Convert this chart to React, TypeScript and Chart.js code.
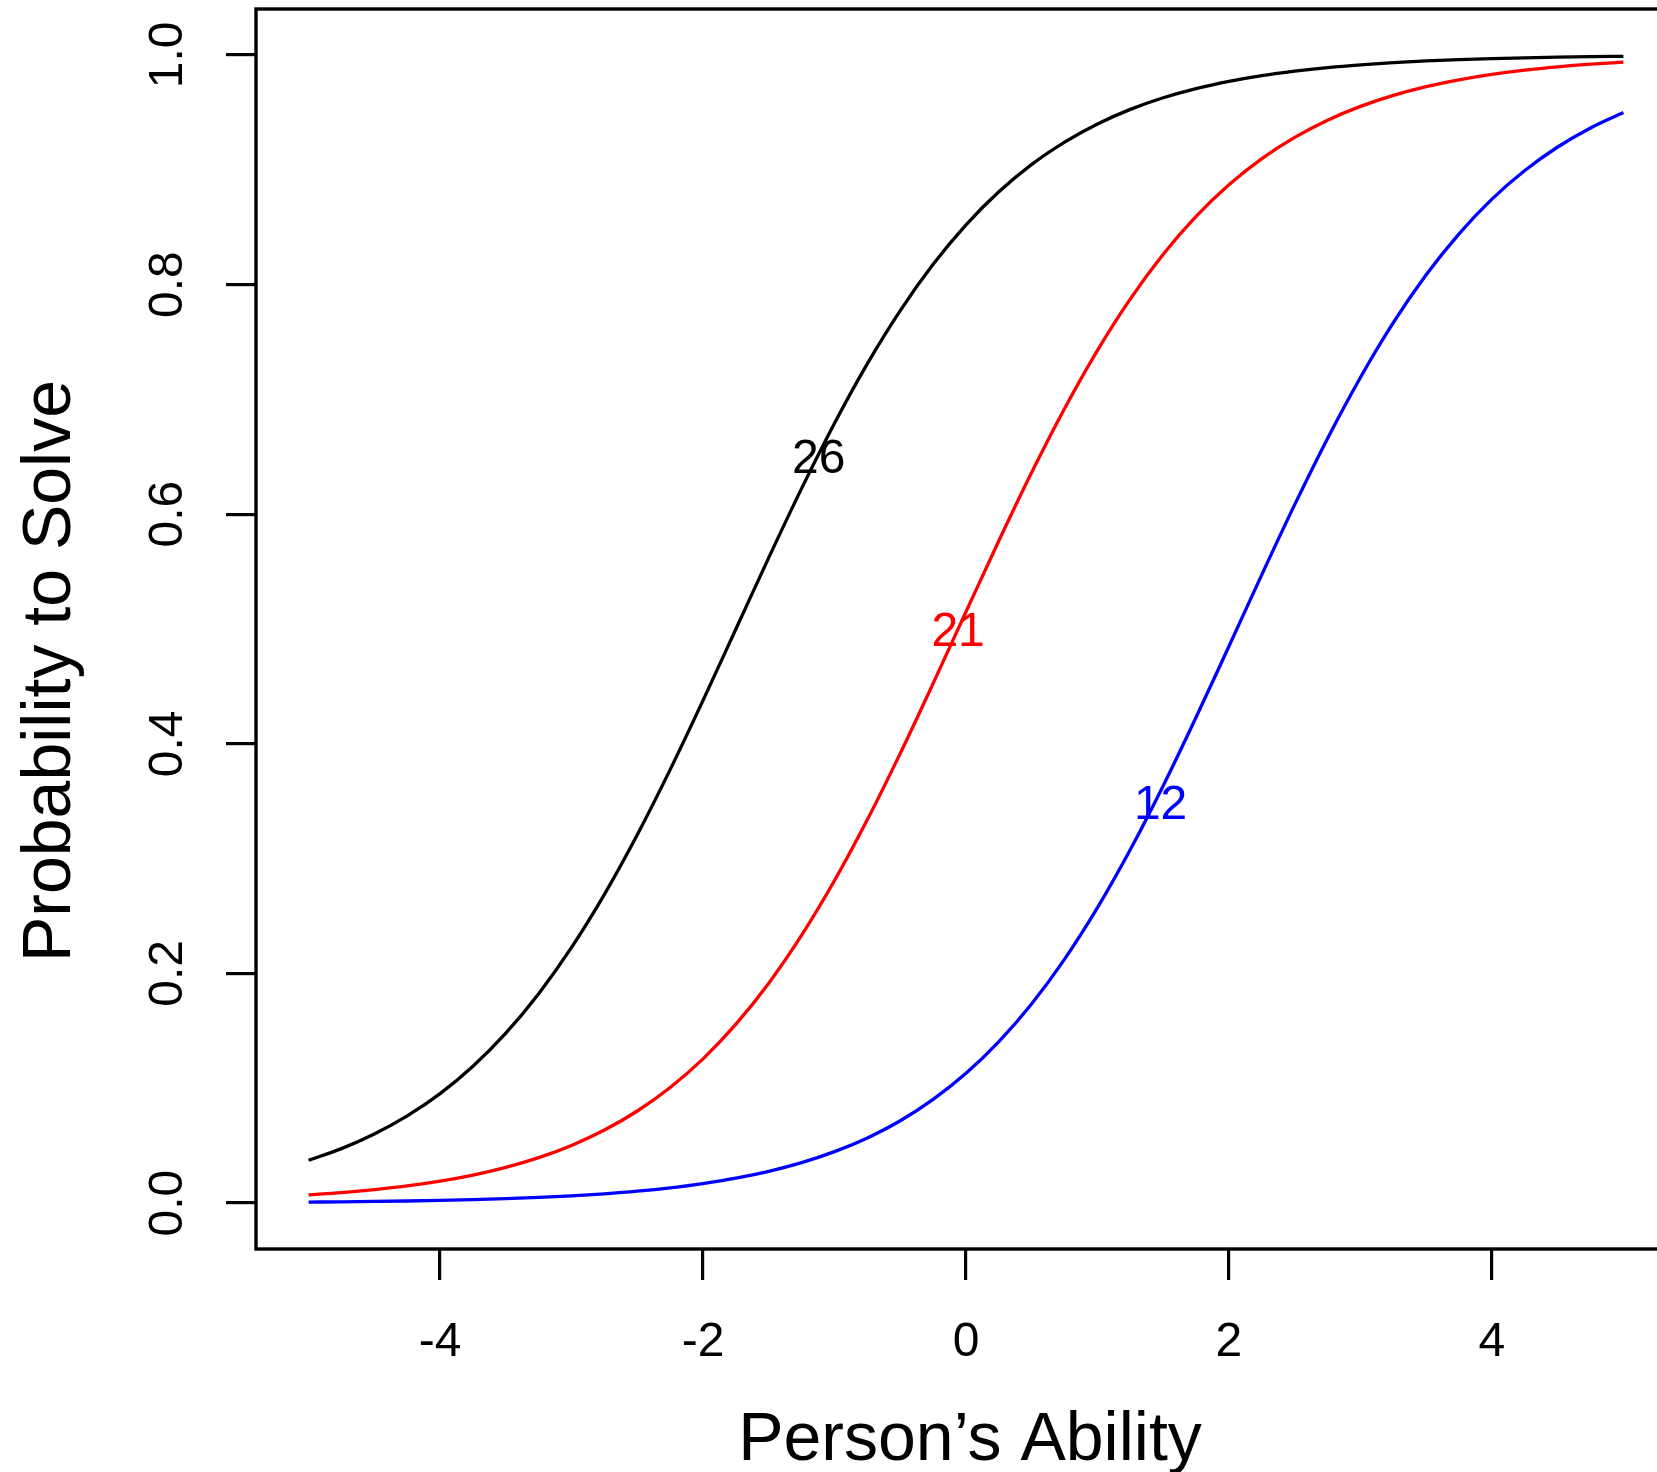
import React, { useEffect, useRef } from "react";
import { Chart, registerables } from "chart.js";

Chart.register(...registerables);

// Person's ability grid (x values)
const abilities = [
  -5, -4.75, -4.5, -4.25, -4, -3.75, -3.5, -3.25, -3, -2.75, -2.5, -2.25, -2, -1.75, -1.5, -1.25, -1, -0.75, -0.5, -0.25,
  0, 0.25, 0.5, 0.75, 1, 1.25, 1.5, 1.75, 2, 2.25, 2.5, 2.75, 3, 3.25, 3.5, 3.75, 4, 4.25, 4.5, 4.75, 5,
];

// Probability to solve
const item26 = [
  0.0373, 0.0474, 0.0601, 0.0759, 0.0953, 0.1192, 0.148, 0.1824, 0.2227, 0.2689, 0.3208, 0.3775, 0.4378, 0.5, 0.5622,
  0.6225, 0.6792, 0.7311, 0.7773, 0.8176, 0.852, 0.8808, 0.9047, 0.9241, 0.9399, 0.9526, 0.9627, 0.9707, 0.977, 0.982,
  0.9859, 0.989, 0.9914, 0.9933, 0.9948, 0.9959, 0.9968, 0.9975, 0.9981, 0.9985, 0.9988,
];
const item21 = [
  0.0071, 0.0091, 0.01166, 0.01492, 0.01908, 0.02437, 0.03107, 0.03954, 0.0502, 0.06357, 0.0802, 0.1007, 0.1256, 0.1558,
  0.1915, 0.2333, 0.2809, 0.334, 0.3917, 0.4526, 0.515, 0.5769, 0.6365, 0.6921, 0.7427, 0.7875, 0.8264, 0.8594, 0.8869,
  0.9097, 0.9282, 0.9432, 0.9552, 0.9648, 0.9724, 0.9783, 0.983, 0.9867, 0.9896, 0.9919, 0.9937,
];
const item12 = [
  0.00086, 0.0011, 0.00141, 0.00181, 0.00233, 0.00299, 0.00383, 0.00492, 0.0063, 0.00808, 0.01035, 0.01326, 0.01696,
  0.02167, 0.02765, 0.03522, 0.04478, 0.05678, 0.0717, 0.0903, 0.113, 0.1406, 0.1736, 0.2125, 0.2573, 0.3079, 0.3635,
  0.4231, 0.485, 0.5474, 0.6083, 0.666, 0.7191, 0.7668, 0.8085, 0.8442, 0.8744, 0.8993, 0.9198, 0.9364, 0.9498,
];

const itemNames = ["26", "21", "12"];
const itemColors = ["#000000", "#ff0000", "#0000ff"];
// where the item labels sit on their curves
const labelAbility = [-1.12, -0.06, 1.48];
const labelProb = [0.647, 0.497, 0.346];

const xTicks = [-4, -2, 0, 2, 4];
const xTickLabels = ["-4", "-2", "0", "2", "4"];
const yTicks = [0, 0.2, 0.4, 0.6, 0.8, 1.0];
const yTickLabels = ["0.0", "0.2", "0.4", "0.6", "0.8", "1.0"];

const xTitle = "Person\u2019s Ability";
const yTitle = "Probability to Solve";

const FONT = "'Liberation Sans', Arial, Helvetica, sans-serif";

export default function App() {
  const ref = useRef<HTMLCanvasElement | null>(null);

  useEffect(() => {
    const canvas = ref.current;
    if (!canvas) return;
    const series = [item26, item21, item12];

    const framePlugin = {
      id: "frameAndText",
      afterDatasetsDraw(chart: any) {
        const { ctx, chartArea, scales } = chart;
        ctx.save();
        ctx.strokeStyle = "#000";
        ctx.lineWidth = 3.4;
        ctx.strokeRect(chartArea.left, chartArea.top, chartArea.right - chartArea.left, chartArea.bottom - chartArea.top);

        // item labels on curves
        ctx.font = `48px ${FONT}`;
        ctx.textAlign = "center";
        ctx.textBaseline = "middle";
        for (let i = 0; i < itemNames.length; i++) {
          const px = scales.x.getPixelForValue(labelAbility[i]);
          const py = scales.y.getPixelForValue(labelProb[i]);
          ctx.fillStyle = itemColors[i];
          ctx.fillText(itemNames[i], px, py);
        }

        // axis titles
        ctx.fillStyle = "#000";
        ctx.font = `68px ${FONT}`;
        ctx.textAlign = "center";
        ctx.textBaseline = "alphabetic";
        const cx = (chartArea.left + chartArea.right) / 2 + 4;
        ctx.fillText(xTitle, cx, chartArea.bottom + 211);

        ctx.save();
        ctx.translate(70, (chartArea.top + chartArea.bottom) / 2 + 42);
        ctx.rotate(-Math.PI / 2);
        ctx.fillText(yTitle, 0, 0);
        ctx.restore();
        ctx.restore();
      },
    };

    const noPad = (s: any) => {
      s.paddingTop = 0;
      s.paddingBottom = 0;
      s.paddingLeft = 0;
      s.paddingRight = 0;
    };

    const chart = new Chart(canvas, {
      type: "line",
      data: {
        datasets: series.map((s, i) => ({
          label: itemNames[i],
          data: abilities.map((a, j) => ({ x: a, y: s[j] })),
          borderColor: itemColors[i],
          backgroundColor: itemColors[i],
          borderWidth: 3.3,
          pointRadius: 0,
          fill: false,
          cubicInterpolationMode: "monotone" as const,
        })),
      },
      options: {
        responsive: false,
        animation: false,
        devicePixelRatio: 1,
        layout: { padding: { left: 0, top: 9, right: 44, bottom: 0 } },
        plugins: {
          legend: { display: false },
          tooltip: { enabled: false },
          title: { display: false },
        },
        events: [],
        scales: {
          x: {
            type: "linear",
            position: "bottom",
            min: -5.4,
            max: 5.4,
            afterBuildTicks: (s: any) => {
              s.ticks = xTicks.map((v) => ({ value: v }));
            },
            afterFit: (s: any) => {
              s.height = 223;
              noPad(s);
            },
            grid: {
              drawOnChartArea: false,
              drawTicks: true,
              tickLength: 31,
              lineWidth: 3.2,
              color: "#000",
            },
            border: { display: false },
            ticks: {
              autoSkip: false,
              maxRotation: 0,
              minRotation: 0,
              padding: 34,
              color: "#000",
              font: { family: FONT, size: 48 },
              callback: (v: any) => {
                const k = xTicks.indexOf(Number(v));
                return k >= 0 ? xTickLabels[k] : "";
              },
            },
          },
          y: {
            type: "linear",
            position: "left",
            min: -0.04,
            max: 1.04,
            afterBuildTicks: (s: any) => {
              s.ticks = yTicks.map((v) => ({ value: v }));
            },
            afterFit: (s: any) => {
              s.width = 256;
              noPad(s);
            },
            grid: {
              drawOnChartArea: false,
              drawTicks: true,
              tickLength: 30,
              lineWidth: 3.2,
              color: "#000",
            },
            border: { display: false },
            ticks: {
              autoSkip: false,
              minRotation: 90,
              maxRotation: 90,
              crossAlign: "center",
              padding: 24,
              color: "#000",
              font: { family: FONT, size: 48 },
              callback: (v: any) => {
                const k = yTicks.findIndex((t) => Math.abs(t - Number(v)) < 1e-9);
                return k >= 0 ? yTickLabels[k] : "";
              },
            },
          },
        },
      },
      plugins: [framePlugin],
    } as any);

    return () => {
      chart.destroy();
    };
  }, []);

  return (
    <div
      style={{
        position: "fixed",
        left: 0,
        top: 0,
        width: 1657,
        height: 1472,
        overflow: "hidden",
        background: "#fff",
      }}
    >
      <canvas ref={ref} width={1720} height={1472} style={{ display: "block", width: 1720, height: 1472 }} />
    </div>
  );
}
